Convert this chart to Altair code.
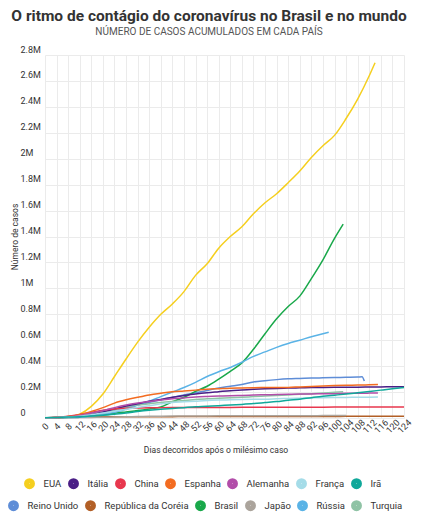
import altair as alt
import pandas as pd

TITLE = "O ritmo de contágio do coronavírus no Brasil e no mundo"
SUBTITLE = "NÚMERO DE CASOS ACUMULADOS EM CADA PAÍS"
X_TITLE = "Dias decorridos após o milésimo caso"
Y_TITLE = "Número de casos"

DAYS = [0, 4, 8, 12, 16, 20, 24, 28, 32, 36, 40, 44, 48, 52, 56, 60,
        64, 68, 72, 76, 80, 84, 88, 92, 96, 100, 104, 108, 112, 116, 120, 124]
X_TICKS = DAYS
Y_TICKS = [0, 200000, 400000, 600000, 800000, 1000000, 1200000, 1400000,
           1600000, 1800000, 2000000, 2200000, 2400000, 2600000, 2800000]

ROW1 = ["EUA", "Itália", "China", "Espanha", "Alemanha", "França", "Irã"]
ROW1_COLORS = ["#F5CF1F", "#4A1E86", "#E8374E", "#F36C21", "#B24DA9", "#A5DCE8", "#10A89A"]
ROW2 = ["Reino Unido", "República da Coréia", "Brasil", "Japão", "Rússia", "Turquia"]
ROW2_COLORS = ["#5E8DD7", "#B25F26", "#19A84A", "#ABA49C", "#5AB3E6", "#8FC3A5"]

# cumulative cases (thousands) at DAYS, each series as long as its data
EUA = [1, 3, 10, 30, 90, 185, 320, 455, 585, 700, 800, 880, 975, 1100, 1190, 1310,
       1400, 1475, 1575, 1660, 1730, 1815, 1905, 2010, 2100, 2180, 2310, 2460, 2640]
ITALIA = [1, 3, 7, 12, 25, 47, 70, 92, 110, 130, 143, 160, 173, 185, 195, 203,
          211, 216, 221, 225, 228, 231, 233, 235, 236, 237, 238, 238, 239, 240, 241, 242]
CHINA = [1, 6, 14, 28, 43, 60, 70, 75, 77.5, 79, 80, 80.5, 80.8, 81, 81.2, 81.4,
         81.7, 82, 82.3, 82.6, 82.8, 83, 83.3, 83.6, 83.8, 84, 84, 84, 84, 84.1, 84.1, 84.1]
ESPANHA = [1, 3, 11, 25, 50, 80, 115, 140, 160, 178, 191, 202, 208, 215, 222, 226,
           230, 232, 234, 235, 236, 236, 240, 243, 247, 250, 252, 254, 256]
ALEMANHA = [1, 4, 9, 20, 38, 57, 80, 100, 115, 127, 138, 148, 155, 162, 166, 169,
            172, 174, 177, 179, 181, 183, 185, 186, 187, 188, 190, 191, 192]
FRANCA = [1, 3, 7, 14, 25, 38, 52, 68, 82, 95, 109, 120, 125, 130, 135, 138,
          140, 142, 144, 145, 148, 151, 153, 155, 157, 158, 159, 160, 161]
IRA = [1, 4, 7, 10, 15, 21, 29, 38, 50, 60, 68, 74, 80, 86, 90, 95,
       100, 105, 111, 119, 127, 137, 145, 157, 167, 176, 185, 195, 205, 215, 225, 235]
REINO_UNIDO = [1, 3, 6, 12, 22, 38, 60, 80, 100, 120, 140, 158, 178, 195, 212, 232,
               245, 258, 278, 288, 296, 302, 305, 308, 310, 312, 314, 316]
COREIA = [1, 4, 6, 7.5, 8.2, 8.8, 9.2, 9.6, 9.9, 10.2, 10.4, 10.6, 10.7, 10.8, 10.8, 10.9,
          11, 11, 11.1, 11.2, 11.4, 11.5, 11.7, 12, 12.2, 12.4, 12.6, 12.8, 13, 13.2, 13.4, 13.6]
BRASIL = [1, 2, 4, 8, 15, 25, 37, 47, 57, 70, 85, 125, 160, 205, 245, 300,
          360, 425, 530, 650, 765, 860, 940, 1075, 1220, 1385]
JAPAO = [1, 1.5, 2, 3, 4.5, 5.5, 7.5, 9.5, 11, 13, 14, 15, 15.5, 16, 16.3, 16.5,
         16.6, 16.8, 17, 17.2, 17.4, 17.6, 17.8, 18.1, 18.4, 18.7]
RUSSIA = [1, 2, 3, 6, 15, 28, 45, 68, 100, 130, 165, 200, 235, 275, 320, 357,
          390, 430, 475, 510, 545, 575, 600, 627, 650]
TURQUIA = [1, 5, 11, 20, 34, 47, 65, 84, 100, 110, 120, 128, 135, 142, 148, 152,
           156, 160, 165, 169, 173, 178, 183, 188, 193, 199]

SERIES = {
    "EUA": EUA, "Itália": ITALIA, "China": CHINA, "Espanha": ESPANHA,
    "Alemanha": ALEMANHA, "França": FRANCA, "Irã": IRA,
    "Reino Unido": REINO_UNIDO, "República da Coréia": COREIA, "Brasil": BRASIL,
    "Japão": JAPAO, "Rússia": RUSSIA, "Turquia": TURQUIA,
}
# last reported points (day, thousands) that fall between grid days
TAILS = {
    "EUA": [(114, 2740)],
    "Espanha": [(115, 258)],
    "Alemanha": [(115, 193)],
    "França": [(115, 162)],
    "Reino Unido": [(109.5, 318), (110.3, 285)],
    "Brasil": [(103, 1495)],
    "Japão": [(104, 19)],
    "Rússia": [(98, 662)],
    "Turquia": [(103, 203)],
}

rows = []
for name, vals in SERIES.items():
    for d, v in zip(DAYS, vals):
        rows.append({"pais": name, "dia": d, "casos": v * 1000})
    for d, v in TAILS.get(name, []):
        rows.append({"pais": name, "dia": d, "casos": v * 1000})
df = pd.DataFrame(rows)

FONT = "Roboto"

x_axis = alt.Axis(
    values=X_TICKS, title=X_TITLE, labelAngle=-45, labelAlign="center",
    labelBaseline="middle", labelPadding=8, labelFont=FONT, labelFontSize=9,
    labelColor="#333", ticks=False, tickSize=0, domain=False, grid=True,
    gridColor="#ebebeb", titleFont=FONT, titleFontSize=8.5, titleFontWeight="normal",
    titleColor="#333", titleX=170.5, titleY=31, titleBaseline="middle", titleAlign="center",
    labelOverlap=False,
)
y_axis = alt.Axis(
    values=Y_TICKS, title=Y_TITLE, labelAlign="left", labelBaseline="alphabetic",
    labelOffset=-3, labelPadding=25, labelFont=FONT, labelFontSize=9, labelColor="#333",
    ticks=False, tickSize=0, domain=False, grid=True, gridColor="#ebebeb",
    labelExpr="datum.value == 0 ? '0' : format(datum.value / 1000000, '.1~f') + 'M'",
    titleFont=FONT, titleFontSize=8.5, titleFontWeight="normal", titleColor="#333",
    titleX=-31, titleY=181.5, titleBaseline="middle", titleAlign="center", titleAngle=270,
    labelOverlap=False,
)


def layer(names, colors, lx, ly):
    sub = df[df["pais"].isin(names)]
    return alt.Chart(sub).mark_line(strokeWidth=1.5, interpolate="monotone").encode(
        x=alt.X("dia:Q", scale=alt.Scale(domain=[0, 124], nice=False), axis=x_axis),
        y=alt.Y("casos:Q", scale=alt.Scale(domain=[0, 2800000], nice=False), axis=y_axis),
        color=alt.Color(
            "pais:N", scale=alt.Scale(domain=names, range=colors), sort=names,
            legend=alt.Legend(
                title=None, orient="none", legendX=lx, legendY=ly,
                direction="horizontal", columns=len(names), symbolType="circle",
                symbolSize=26, symbolStrokeWidth=5.8, symbolOpacity=1,
                labelFont=FONT, labelFontSize=9.5,
                labelColor="#333", labelOffset=8.5, columnPadding=-3, padding=0,
            ),
        ),
    )


chart = alt.layer(
    layer(ROW2, ROW2_COLORS, -37, 445),
    layer(ROW1, ROW1_COLORS, -21, 423),
).resolve_scale(color="independent").properties(
    width=359, height=363,
    title=alt.TitleParams(
        TITLE, subtitle=SUBTITLE, font=FONT, fontSize=15.5, fontWeight="bold",
        color="#333", subtitleFont=FONT, subtitleFontSize=10, subtitleColor="#555",
        anchor="middle", frame="group", dx=-15.5, offset=8, subtitlePadding=3,
    ),
    autosize=alt.AutoSizeParams(type="none"),
    padding={"left": 37, "top": 47, "right": 9, "bottom": 95},
).configure_view(stroke=None)

chart.save("out.html", embed_options={"renderer": "svg", "actions": False})
